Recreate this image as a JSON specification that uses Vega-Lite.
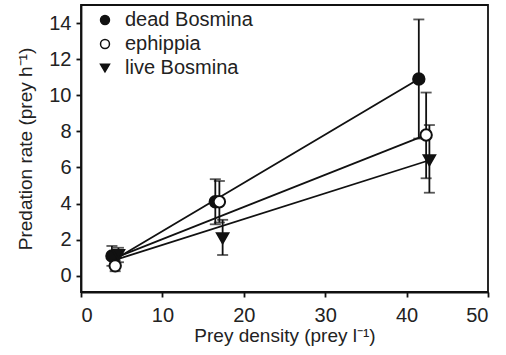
{
  "$schema": "https://vega.github.io/schema/vega-lite/v6.json",
  "width": 407,
  "height": 287,
  "autosize": {"type": "none"},
  "padding": {"left": 81, "top": 5, "right": 18, "bottom": 63},
  "config": {
    "font": "Liberation Sans",
    "view": {"stroke": "#111", "strokeWidth": 1.8},
    "axis": {
      "grid": false,
      "domainColor": "#111",
      "domainWidth": 1.8,
      "tickColor": "#111",
      "tickWidth": 1.8,
      "tickSize": 5,
      "labelFontSize": 20,
      "labelColor": "#222",
      "titleFontSize": 19,
      "titleFontWeight": "normal",
      "titleColor": "#222",
      "labelPadding": 5
    },
    "legend": {
      "labelFontSize": 20,
      "labelColor": "#222"
    }
  },
  "datasets": {
    "pts": [
      {"series": "dead Bosmina", "density": 3.8, "rate": 1.1, "lo": 0.55, "hi": 1.65},
      {"series": "dead Bosmina", "density": 16.5, "rate": 4.1, "lo": 2.85, "hi": 5.35},
      {"series": "dead Bosmina", "density": 41.5, "rate": 10.9, "lo": 7.6, "hi": 14.2},
      {"series": "ephippia", "density": 4.2, "rate": 0.55, "lo": 0.25, "hi": 0.85},
      {"series": "ephippia", "density": 17.0, "rate": 4.1, "lo": 2.95, "hi": 5.25},
      {"series": "ephippia", "density": 42.4, "rate": 7.8, "lo": 5.4, "hi": 10.15},
      {"series": "live Bosmina", "density": 4.6, "rate": 1.15, "lo": 0.75, "hi": 1.55},
      {"series": "live Bosmina", "density": 17.4, "rate": 2.08, "lo": 1.15, "hi": 3.1},
      {"series": "live Bosmina", "density": 42.8, "rate": 6.4, "lo": 4.6, "hi": 8.35}
    ],
    "fits": [
      {"series": "dead Bosmina", "density": 4.5, "rate": 1.0},
      {"series": "dead Bosmina", "density": 41.5, "rate": 10.9},
      {"series": "ephippia", "density": 4.5, "rate": 1.05},
      {"series": "ephippia", "density": 42.4, "rate": 7.8},
      {"series": "live Bosmina", "density": 4.5, "rate": 0.92},
      {"series": "live Bosmina", "density": 42.8, "rate": 6.4}
    ]
  },
  "layer": [
    {
      "data": {"name": "fits"},
      "mark": {"type": "line", "color": "#111", "strokeWidth": 1.8},
      "encoding": {
        "x": {"field": "density", "type": "quantitative", "scale": {"domain": [0, 50], "nice": false},
              "axis": {"values": [0, 10, 20, 30, 40, 50], "title": "Prey density (prey l⁻¹)", "labelPadding": 8, "titlePadding": 1}},
        "y": {"field": "rate", "type": "quantitative", "scale": {"domain": [-0.9, 15], "nice": false, "zero": false},
              "axis": {"values": [0, 2, 4, 6, 8, 10, 12, 14], "title": "Predation rate (prey h⁻¹)", "titlePadding": 13}},
        "detail": {"field": "series"}
      }
    },
    {
      "data": {"name": "pts"},
      "mark": {"type": "rule", "color": "#111", "strokeWidth": 1.8},
      "encoding": {
        "x": {"field": "density", "type": "quantitative"},
        "y": {"field": "lo", "type": "quantitative"},
        "y2": {"field": "hi"}
      }
    },
    {
      "data": {"name": "pts"},
      "mark": {"type": "tick", "orient": "horizontal", "color": "#111", "size": 11, "thickness": 1.8},
      "encoding": {
        "x": {"field": "density", "type": "quantitative"},
        "y": {"field": "lo", "type": "quantitative"}
      }
    },
    {
      "data": {"name": "pts"},
      "mark": {"type": "tick", "orient": "horizontal", "color": "#111", "size": 11, "thickness": 1.8},
      "encoding": {
        "x": {"field": "density", "type": "quantitative"},
        "y": {"field": "hi", "type": "quantitative"}
      }
    },
    {
      "data": {"name": "pts"},
      "mark": {"type": "point", "filled": true, "stroke": "#111", "strokeWidth": 2, "size": 130, "opacity": 1},
      "encoding": {
        "x": {"field": "density", "type": "quantitative"},
        "y": {"field": "rate", "type": "quantitative"},
        "shape": {"field": "series", "type": "nominal",
                  "scale": {"domain": ["dead Bosmina", "ephippia", "live Bosmina"], "range": ["circle", "circle", "triangle-down"]},
                  "legend": {"title": null, "orient": "none", "legendX": 14, "legendY": 5, "rowPadding": 4, "labelOffset": 10, "symbolSize": 80, "padding": 0,
                             "encode": {"symbols": {"update": {"stroke": {"value": "#111"}, "strokeWidth": {"value": 1.8}}}}}},
        "fill": {"field": "series", "type": "nominal",
                 "scale": {"domain": ["dead Bosmina", "ephippia", "live Bosmina"], "range": ["#111", "white", "#111"]},
                 "legend": {"title": null, "orient": "none", "legendX": 14, "legendY": 5, "rowPadding": 4, "labelOffset": 10, "symbolSize": 80, "padding": 0,
                            "encode": {"symbols": {"update": {"stroke": {"value": "#111"}, "strokeWidth": {"value": 1.8}}}}}}
      }
    }
  ]
}
